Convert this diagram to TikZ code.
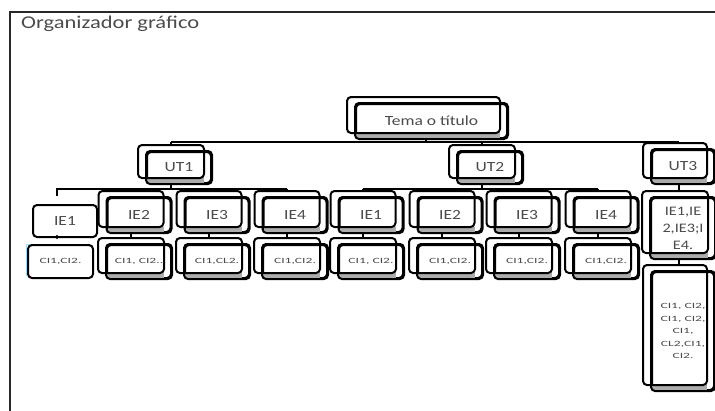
\documentclass[tikz,border=0pt]{standalone}
\usepackage{fontspec}
\setmainfont[FakeStretch=1.25]{Carlito}
\newfontfamily\cifont[FakeStretch=1.7]{Carlito}
\definecolor{txt}{RGB}{75,75,75}
\definecolor{frm}{RGB}{40,40,40}
\newcommand{\stk}[7]{%
  \node[#2, minimum width=#5pt, minimum height=#6pt] (#1) at (#3,#4) {#7};
  \fill[gray!65] ([xshift=1pt,yshift=6pt]#1.south west) rectangle ([xshift=-8pt,yshift=1pt]#1.south east);
  \draw[outl] ([xshift=-8pt,yshift=6pt]#1.north west) rectangle ([xshift=-8pt,yshift=6pt]#1.south east);
  \draw[outl] (#1.north west) rectangle (#1.south east);
}
\begin{document}
\begin{tikzpicture}[x=1pt,y=-1pt,
  box/.style={draw=black, line width=2pt, rounded corners=4pt, fill=white, text=txt, inner sep=0pt, align=center, font=\fontsize{14}{16}\selectfont},
  cibox/.style={box, font=\cifont\fontsize{8}{12.5}\selectfont},
  outl/.style={line width=2pt, rounded corners=4pt},
  conn/.style={line width=2pt}]
\useasboundingbox (0,0) rectangle (715,410);
% frame
\draw[frm, line width=2pt] (10,412) -- (10,12) -- (717,12);
\node[anchor=base west, text=txt, font=\fontsize{18}{20}\selectfont, inner sep=0pt] (title) at (21,28.5) {Organizador gráfico};
% level coordinates
\coordinate (lv0) at (0,142);
\coordinate (lv1) at (0,189);
% nodes
\stk{tema}{box}{431.5}{121}{151}{34}{Tema o título}
\stk{ut1}{box}{179}{167.5}{64}{31}{UT1}
\stk{ut2}{box}{490}{167.5}{64}{31}{UT2}
\stk{ut3}{box}{683}{166.5}{62}{33}{UT3}
% UT1 children
\node[box, minimum width=64pt, minimum height=32pt] (ie1a) at (65,221) {IE1};
\stk{ie2a}{box}{139}{215}{63}{34}{IE2}
\stk{ie3a}{box}{217}{215}{63}{34}{IE3}
\stk{ie4a}{box}{295}{215}{63}{34}{IE4}
% UT2 children
\stk{ie1b}{box}{371}{215}{63}{34}{IE1}
\stk{ie2b}{box}{450}{215}{63}{34}{IE2}
\stk{ie3b}{box}{527}{215}{63}{34}{IE3}
\stk{ie4b}{box}{606}{215}{63}{34}{IE4}
% UT3 child
\stk{ie3c}{box, font=\fontsize{13}{17}\selectfont}{683}{228}{64}{60}{IE1,IE\\2,IE3;I\\E4.}
% CI row
\draw[cyan!40, line width=1.2pt] (26.5,276) -- (26.5,244.5) -- (82,244.5);
\node[cibox, minimum width=65pt, minimum height=33pt] (ci1a) at (60.5,261.5) {CI1,CI2.};
\stk{ci2a}{cibox}{139}{261.5}{64}{33}{CI1, CI2..}
\stk{ci3a}{cibox}{217}{261.5}{64}{33}{CI1,CL2.}
\stk{ci4a}{cibox}{295}{261.5}{64}{33}{CI1,CI2.}
\stk{ci1b}{cibox}{371}{261.5}{64}{33}{CI1, CI2.}
\stk{ci2b}{cibox}{450}{261.5}{64}{33}{CI1,CI2.}
\stk{ci3b}{cibox}{527}{261.5}{64}{33}{CI1,CI2.}
\stk{ci4b}{cibox}{606}{261.5}{64}{33}{CI1,CI2.}
\stk{ci3c}{cibox}{683}{331}{62}{118}{CI1, CI2,\\CI1, CI2,\\CI1,\\CL2,CI1,\\CI2.}
% connectors: tema -> UTs
\draw[conn] ([xshift=-6pt]tema.south) -- ([xshift=-6pt]tema.south |- lv0);
\draw[conn] ([xshift=-8pt]ut1.north |- lv0) -- ([xshift=-4pt]ut3.north |- lv0);
\draw[conn] ([xshift=-8pt]ut1.north |- lv0) -- ([xshift=-8pt,yshift=6pt]ut1.north);
\draw[conn] ([xshift=-8pt]ut2.north |- lv0) -- ([xshift=-8pt,yshift=6pt]ut2.north);
\draw[conn] ([xshift=-4pt]ut3.north |- lv0) -- ([xshift=-4pt,yshift=6pt]ut3.north);
% UT1 -> IEs
\coordinate (ie1top) at (57,196);
\draw[conn] ([xshift=-8pt]ut1.south) -- ([xshift=-8pt]ut1.south |- lv1);
\draw[conn] (ie1top) -- (ie1top |- lv1) -- ([xshift=-8pt]ie4a.north |- lv1);
\foreach \n in {ie2a,ie3a,ie4a}{
  \draw[conn] ([xshift=-8pt]\n.north |- lv1) -- ([xshift=-8pt,yshift=6pt]\n.north);
}
% UT2 -> IEs
\draw[conn] ([xshift=-8pt]ut2.south) -- ([xshift=-8pt]ut2.south |- lv1);
\draw[conn] ([xshift=-8pt]ie1b.north |- lv1) -- ([xshift=-8pt]ie4b.north |- lv1);
\foreach \n in {ie1b,ie2b,ie3b,ie4b}{
  \draw[conn] ([xshift=-8pt]\n.north |- lv1) -- ([xshift=-8pt,yshift=6pt]\n.north);
}
% UT3 -> IE
\draw[conn] ([xshift=-4pt]ut3.south) -- ([xshift=-4pt,yshift=6pt]ie3c.north);
% IE -> CI
\draw[line width=2.6pt, line cap=round] ([xshift=-8pt]ie1a.south) -- ([xshift=-8pt,yshift=2pt]ie1a.south);
\foreach \a/\b in {ie2a/ci2a,ie3a/ci3a,ie4a/ci4a,ie1b/ci1b,ie2b/ci2b,ie3b/ci3b,ie4b/ci4b}{
  \draw[conn] ([xshift=-8pt]\a.south) -- ([xshift=-8pt,yshift=6pt]\b.north);
}
\draw[conn] ([xshift=-4pt]ie3c.south) -- ([xshift=-4pt,yshift=6pt]ci3c.north);
\end{tikzpicture}
\end{document}
